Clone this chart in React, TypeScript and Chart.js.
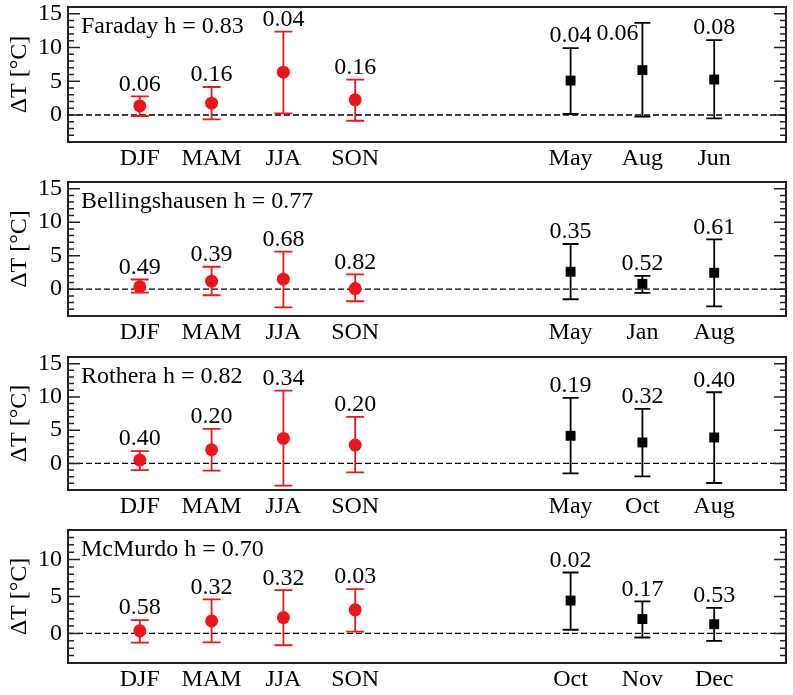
import React, { useEffect, useRef } from 'react';
import { Chart, registerables } from 'chart.js';

Chart.register(...registerables);

// ---------- data ----------
const SEASON_LABELS = ['DJF', 'MAM', 'JJA', 'SON'];
const SEASON_X = [1, 2, 3, 4];
const MONTH_X = [7, 8, 9];
const Y_TICKS_15 = [0, 5, 10, 15];
const Y_TICKS_10 = [0, 5, 10];

// Faraday
const faradayTitle = 'Faraday h = 0.83';
const faradayMonths = ['May', 'Aug', 'Jun'];
const faradaySeasonMean = [1.35, 1.75, 6.35, 2.25];
const faradaySeasonLow = [-0.15, -0.65, 0.25, -0.85];
const faradaySeasonHigh = [2.75, 4.15, 12.35, 5.25];
const faradaySeasonP = ['0.06', '0.16', '0.04', '0.16'];
const faradayMonthMean = [5.1, 6.65, 5.25];
const faradayMonthLow = [0.15, -0.25, -0.5];
const faradayMonthHigh = [9.9, 13.65, 11.1];
const faradayMonthP = ['0.04', '0.06', '0.08'];

// Bellingshausen
const bellTitle = 'Bellingshausen h = 0.77';
const bellMonths = ['May', 'Jan', 'Aug'];
const bellSeasonMean = [0.35, 1.2, 1.5, 0.1];
const bellSeasonLow = [-0.5, -0.9, -2.7, -1.8];
const bellSeasonHigh = [1.45, 3.35, 5.6, 2.2];
const bellSeasonP = ['0.49', '0.39', '0.68', '0.82'];
const bellMonthMean = [2.6, 0.8, 2.45];
const bellMonthLow = [-1.5, -0.55, -2.55];
const bellMonthHigh = [6.75, 2.0, 7.45];
const bellMonthP = ['0.35', '0.52', '0.61'];

// Rothera
const rothTitle = 'Rothera h = 0.82';
const rothMonths = ['May', 'Oct', 'Aug'];
const rothSeasonMean = [0.5, 2.05, 3.75, 2.75];
const rothSeasonLow = [-1.0, -1.1, -3.35, -1.35];
const rothSeasonHigh = [1.85, 5.2, 10.95, 7.0];
const rothSeasonP = ['0.40', '0.20', '0.34', '0.20'];
const rothMonthMean = [4.15, 3.15, 3.9];
const rothMonthLow = [-1.5, -1.95, -2.95];
const rothMonthHigh = [9.85, 8.2, 10.7];
const rothMonthP = ['0.19', '0.32', '0.40'];

// McMurdo
const mcmTitle = 'McMurdo h = 0.70';
const mcmMonths = ['Oct', 'Nov', 'Dec'];
const mcmSeasonMean = [0.35, 1.7, 2.15, 3.2];
const mcmSeasonLow = [-1.25, -1.2, -1.6, 0.25];
const mcmSeasonHigh = [1.8, 4.6, 5.85, 6.0];
const mcmSeasonP = ['0.58', '0.32', '0.32', '0.03'];
const mcmMonthMean = [4.45, 1.95, 1.25];
const mcmMonthLow = [0.5, -0.55, -1.0];
const mcmMonthHigh = [8.25, 4.35, 3.45];
const mcmMonthP = ['0.02', '0.17', '0.53'];

// ---------- panels ----------
type PanelData = {
  title: string;
  months: string[];
  sMean: number[]; sLow: number[]; sHigh: number[]; sP: string[];
  mMean: number[]; mLow: number[]; mHigh: number[]; mP: string[];
  yMin: number; yMax: number; yTicks: number[];
};

const PANELS: PanelData[] = [
  { title: faradayTitle, months: faradayMonths, sMean: faradaySeasonMean, sLow: faradaySeasonLow, sHigh: faradaySeasonHigh, sP: faradaySeasonP, mMean: faradayMonthMean, mLow: faradayMonthLow, mHigh: faradayMonthHigh, mP: faradayMonthP, yMin: -4, yMax: 16, yTicks: Y_TICKS_15 },
  { title: bellTitle, months: bellMonths, sMean: bellSeasonMean, sLow: bellSeasonLow, sHigh: bellSeasonHigh, sP: bellSeasonP, mMean: bellMonthMean, mLow: bellMonthLow, mHigh: bellMonthHigh, mP: bellMonthP, yMin: -4, yMax: 16, yTicks: Y_TICKS_15 },
  { title: rothTitle, months: rothMonths, sMean: rothSeasonMean, sLow: rothSeasonLow, sHigh: rothSeasonHigh, sP: rothSeasonP, mMean: rothMonthMean, mLow: rothMonthLow, mHigh: rothMonthHigh, mP: rothMonthP, yMin: -4, yMax: 16, yTicks: Y_TICKS_15 },
  { title: mcmTitle, months: mcmMonths, sMean: mcmSeasonMean, sLow: mcmSeasonLow, sHigh: mcmSeasonHigh, sP: mcmSeasonP, mMean: mcmMonthMean, mLow: mcmMonthLow, mHigh: mcmMonthHigh, mP: mcmMonthP, yMin: -4, yMax: 14, yTicks: Y_TICKS_10 },
];

// layout (pixel frame positions of each panel)
const FRAME_TOPS = [7, 182, 357, 530];
const FRAME_BOTTOMS = [142, 316, 490, 663];
const PAD_TOP = 7;
const X_AXIS_H = 33;
const Y_AXIS_W = 68;
const WIDTH = 793;

const FONT = 'Liberation Serif, Times New Roman, serif';
const RED = 'rgb(236,22,26)';
const BLACK = '#000';

function Panel({ p, idx }: { p: PanelData; idx: number }) {
  const ref = useRef<HTMLCanvasElement | null>(null);
  const frameH = FRAME_BOTTOMS[idx] - FRAME_TOPS[idx];
  const height = PAD_TOP + frameH + X_AXIS_H;
  const top = FRAME_TOPS[idx] - PAD_TOP;

  useEffect(() => {
    if (!ref.current) return;
    const xLabels: Record<number, string> = {};
    SEASON_X.forEach((v, i) => (xLabels[v] = SEASON_LABELS[i]));
    MONTH_X.forEach((v, i) => (xLabels[v] = p.months[i]));
    const xTickVals = [...SEASON_X, ...MONTH_X];

    const deco = {
      id: 'deco',
      beforeDatasetsDraw(chart: any) {
        const { ctx, chartArea: a, scales } = chart;
        const x = scales.x, y = scales.y;
        ctx.save();
        // zero line
        const y0 = y.getPixelForValue(0);
        ctx.setLineDash([6, 3]);
        ctx.strokeStyle = BLACK;
        ctx.lineWidth = 1.3;
        ctx.beginPath();
        ctx.moveTo(a.left, y0);
        ctx.lineTo(a.right, y0);
        ctx.stroke();
        ctx.setLineDash([]);
        // error bars
        const bars = (xs: number[], lo: number[], hi: number[], color: string, cap: number) => {
          ctx.strokeStyle = color;
          ctx.lineWidth = 1.8;
          xs.forEach((xv, i) => {
            const px = x.getPixelForValue(xv);
            const y1 = y.getPixelForValue(lo[i]);
            const y2 = y.getPixelForValue(hi[i]);
            ctx.beginPath();
            ctx.moveTo(px, y1); ctx.lineTo(px, y2);
            ctx.moveTo(px - cap, y1); ctx.lineTo(px + cap, y1);
            ctx.moveTo(px - cap, y2); ctx.lineTo(px + cap, y2);
            ctx.stroke();
          });
        };
        bars(SEASON_X, p.sLow, p.sHigh, RED, 9);
        bars(MONTH_X, p.mLow, p.mHigh, BLACK, 8);
        ctx.restore();
      },
      afterDraw(chart: any) {
        const { ctx, chartArea: a, scales } = chart;
        const x = scales.x, y = scales.y;
        ctx.save();
        // frame
        ctx.strokeStyle = '#222';
        ctx.lineWidth = 2;
        ctx.strokeRect(a.left, a.top, a.right - a.left, a.bottom - a.top);
        // inner ticks
        ctx.lineWidth = 1.5;
        ctx.beginPath();
        for (let v = Math.ceil(p.yMin); v <= Math.floor(p.yMax); v++) {
          const py = y.getPixelForValue(v);
          const len = v % 5 === 0 ? 12 : 6;
          ctx.moveTo(a.left, py); ctx.lineTo(a.left + len, py);
          ctx.moveTo(a.right, py); ctx.lineTo(a.right - len, py);
        }
        ctx.stroke();
        // station title
        ctx.fillStyle = BLACK;
        ctx.font = `24px ${FONT}`;
        ctx.textAlign = 'left';
        ctx.textBaseline = 'middle';
        ctx.fillText(p.title, a.left + 13, a.top + 20);
        // p-value labels
        const labels = (xs: number[], hi: number[], txt: string[]) => {
          xs.forEach((xv, i) => {
            const px = x.getPixelForValue(xv);
            const pyTop = y.getPixelForValue(hi[i]);
            if (pyTop - 22 < a.top) {
              ctx.textAlign = 'right';
              ctx.fillText(txt[i], px - 4, pyTop + 11);
            } else {
              ctx.textAlign = 'center';
              ctx.fillText(txt[i], px, pyTop - 12);
            }
          });
        };
        labels(SEASON_X, p.sHigh, p.sP);
        labels(MONTH_X, p.mHigh, p.mP);
        ctx.restore();
      },
    };

    const chart = new Chart(ref.current, {
      type: 'scatter',
      data: {
        datasets: [
          {
            data: SEASON_X.map((xv, i) => ({ x: xv, y: p.sMean[i] })),
            pointStyle: 'circle',
            pointRadius: 6.5,
            pointBackgroundColor: RED,
            pointBorderColor: RED,
            pointBorderWidth: 0,
          },
          {
            data: MONTH_X.map((xv, i) => ({ x: xv, y: p.mMean[i] })),
            pointStyle: 'rect',
            pointRadius: 7,
            pointBackgroundColor: BLACK,
            pointBorderColor: BLACK,
            pointBorderWidth: 0,
          },
        ],
      },
      options: {
        responsive: false,
        maintainAspectRatio: false,
        animation: false,
        devicePixelRatio: 1,
        layout: { padding: { top: PAD_TOP, right: 2, left: 0, bottom: 0 } },
        plugins: { legend: { display: false }, tooltip: { enabled: false }, title: { display: false } },
        scales: {
          x: {
            type: 'linear',
            min: 0,
            max: 10,
            grid: { display: false, drawTicks: false },
            border: { display: false },
            afterBuildTicks: (s: any) => { s.ticks = xTickVals.map((v) => ({ value: v })); },
            afterFit: (s: any) => { s.height = X_AXIS_H; s.paddingLeft = 0; s.paddingRight = 0; },
            ticks: {
              autoSkip: false,
              maxRotation: 0,
              padding: 2,
              color: BLACK,
              font: { family: FONT, size: 24 },
              callback: (v: any) => xLabels[v as number] ?? '',
            },
          },
          y: {
            type: 'linear',
            min: p.yMin,
            max: p.yMax,
            grid: { display: false, drawTicks: false },
            border: { display: false },
            afterBuildTicks: (s: any) => { s.ticks = p.yTicks.map((v) => ({ value: v })); },
            afterFit: (s: any) => { s.width = Y_AXIS_W; s.paddingTop = 0; s.paddingBottom = 0; },
            ticks: { padding: 6, color: BLACK, font: { family: FONT, size: 24 } },
            title: { display: true, text: 'ΔT [°C]', color: BLACK, font: { family: FONT, size: 24 }, padding: { top: 5, bottom: 0 } },
          },
        },
      },
      plugins: [deco],
    } as any);
    return () => chart.destroy();
  }, [p, idx]);

  return (
    <canvas
      ref={ref}
      width={WIDTH}
      height={height}
      style={{ position: 'absolute', left: 0, top, width: WIDTH, height }}
    />
  );
}

export default function App() {
  return (
    <div style={{ position: 'absolute', left: 0, top: 0, width: WIDTH, height: 695, overflow: 'hidden', background: '#fff' }}>
      {PANELS.map((p, i) => (
        <Panel key={i} p={p} idx={i} />
      ))}
    </div>
  );
}
